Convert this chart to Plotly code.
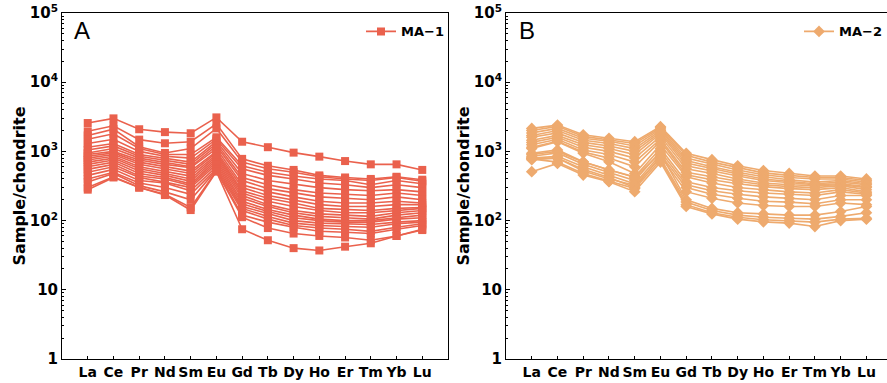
import plotly.graph_objects as go

elements = ["La", "Ce", "Pr", "Nd", "Sm", "Eu", "Gd", "Tb", "Dy", "Ho", "Er", "Tm", "Yb", "Lu"]

# Panel A: MA-1 chondrite-normalised REE patterns
ma1_samples = [
    [2570, 3000, 2090, 1900, 1830, 3100, 1380, 1150, 960, 840, 725, 650, 650, 540],
    [1950, 2350, 1480, 1310, 1380, 2500, 780, 620, 540, 450, 420, 400, 430, 390],
    [1700, 2100, 1170, 950, 1100, 2150, 700, 560, 500, 430, 400, 380, 420, 370],
    [1500, 1800, 1100, 900, 900, 1600, 620, 500, 440, 400, 380, 330, 380, 340],
    [1300, 1500, 1000, 850, 800, 1500, 560, 450, 400, 350, 330, 300, 330, 300],
    [1150, 1300, 900, 800, 700, 1400, 480, 380, 340, 300, 280, 270, 280, 260],
    [1050, 1200, 850, 750, 650, 1300, 420, 330, 280, 250, 240, 230, 250, 230],
    [950, 1100, 800, 700, 600, 1200, 380, 290, 250, 220, 210, 200, 220, 200],
    [900, 1000, 750, 650, 580, 1100, 330, 260, 220, 190, 180, 180, 190, 180],
    [850, 950, 700, 600, 520, 1000, 300, 230, 200, 170, 160, 160, 170, 170],
    [800, 900, 650, 560, 480, 950, 270, 210, 180, 150, 145, 140, 150, 155],
    [750, 850, 600, 520, 440, 900, 250, 190, 160, 140, 130, 130, 140, 150],
    [700, 800, 560, 480, 400, 850, 230, 170, 140, 125, 120, 115, 130, 140],
    [650, 750, 520, 450, 370, 800, 210, 160, 130, 115, 110, 105, 120, 130],
    [600, 700, 480, 420, 340, 750, 190, 145, 120, 105, 100, 100, 110, 120],
    [550, 650, 440, 400, 320, 700, 175, 135, 110, 100, 95, 95, 105, 110],
    [500, 600, 420, 360, 300, 650, 160, 125, 100, 92, 90, 88, 95, 100],
    [450, 550, 380, 350, 270, 600, 150, 115, 92, 85, 82, 80, 90, 95],
    [400, 500, 350, 300, 240, 560, 140, 105, 85, 78, 75, 70, 80, 90],
    [360, 480, 320, 260, 200, 540, 120, 95, 80, 70, 68, 65, 75, 85],
    [300, 430, 300, 240, 155, 520, 112, 78, 65, 60, 57, 52, 60, 75],
    [280, 420, 300, 234, 142, 510, 75, 52, 40, 37, 42, 47, 60, 73],
]

# Panel B: MA-2 chondrite-normalised REE patterns
ma2_samples = [
    [2150, 2400, 1740, 1550, 1380, 2280, 940, 760, 620, 530, 480, 440, 440, 400],
    [2000, 2300, 1650, 1450, 1300, 2200, 880, 700, 580, 490, 450, 420, 420, 380],
    [1850, 2150, 1550, 1400, 1200, 2100, 800, 650, 540, 460, 420, 400, 400, 360],
    [1700, 2000, 1450, 1300, 1100, 2000, 740, 600, 500, 430, 390, 360, 380, 340],
    [1600, 1850, 1350, 1200, 1000, 1900, 680, 560, 470, 400, 370, 340, 360, 330],
    [1450, 1700, 1250, 1100, 900, 1800, 620, 520, 440, 380, 350, 330, 340, 310],
    [1350, 1600, 1150, 1000, 800, 1650, 560, 480, 400, 350, 330, 320, 330, 300],
    [1250, 1500, 1050, 900, 700, 1500, 500, 430, 370, 330, 310, 300, 320, 280],
    [1150, 1400, 980, 800, 600, 1400, 460, 390, 340, 310, 290, 280, 300, 260],
    [1100, 1380, 940, 710, 480, 1250, 430, 350, 300, 280, 260, 250, 280, 250],
    [940, 1050, 710, 540, 430, 1100, 365, 300, 270, 250, 240, 230, 260, 240],
    [850, 950, 650, 500, 380, 1000, 330, 270, 240, 220, 210, 200, 230, 230],
    [800, 850, 600, 450, 340, 900, 300, 240, 210, 190, 185, 175, 200, 200],
    [760, 800, 550, 420, 300, 850, 262, 210, 180, 165, 160, 160, 180, 170],
    [900, 1000, 700, 540, 420, 950, 200, 150, 130, 125, 120, 120, 135, 160],
    [800, 800, 520, 400, 325, 800, 185, 140, 120, 112, 108, 105, 115, 130],
    [780, 700, 480, 370, 290, 750, 170, 130, 112, 103, 100, 95, 105, 108],
    [510, 670, 455, 365, 262, 700, 160, 125, 105, 96, 92, 82, 100, 105],
]

y_tickvals = [1, 10, 100, 1000, 10000, 100000]
y_ticktext = ["<b>1</b>", "<b>10</b>", "<b>10<sup>2</sup></b>", "<b>10<sup>3</sup></b>",
              "<b>10<sup>4</sup></b>", "<b>10<sup>5</sup></b>"]

COLOR_A = "rgb(234,97,77)"
COLOR_B = "rgb(238,170,110)"
FONT = "DejaVu Sans"

xpos = list(range(1, len(elements) + 1))

fig = go.Figure()
for i, s in enumerate(ma1_samples):
    fig.add_trace(go.Scatter(
        x=xpos, y=s, mode="lines+markers", name="MA\u22121",
        line=dict(color=COLOR_A, width=1.6),
        marker=dict(symbol="square", size=8, color=COLOR_A),
        showlegend=(i == 0), legend="legend", xaxis="x", yaxis="y"))
for i, s in enumerate(ma2_samples):
    fig.add_trace(go.Scatter(
        x=xpos, y=s, mode="lines+markers", name="MA\u22122",
        line=dict(color=COLOR_B, width=1.6),
        marker=dict(symbol="diamond", size=9, color=COLOR_B),
        showlegend=(i == 0), legend="legend2", xaxis="x2", yaxis="y2"))

W, H = 887, 383
axis_common = dict(showline=True, linecolor="black", linewidth=1, showgrid=False,
                   zeroline=False, ticks="inside", ticklen=4, tickcolor="black",
                   tickfont=dict(family=FONT, size=14, color="black"))

xa = dict(axis_common, tickmode="array", tickvals=xpos,
          ticktext=["<b>%s</b>" % e for e in elements], ticklen=3)
minor_vals = [m * 10 ** k for k in range(0, 5) for m in range(2, 10)]
ya = dict(axis_common, type="log", range=[0, 5], tickmode="array",
          tickvals=y_tickvals, ticktext=y_ticktext,
          tickfont=dict(family=FONT, size=15, color="black"),
          minor=dict(ticks="inside", ticklen=2, tickcolor="black",
                     tickmode="array", tickvals=minor_vals, showgrid=False),
          title=dict(text="<b>Sample/chondrite</b>",
                     font=dict(family=FONT, size=16, color="black"), standoff=0))

legend_font = dict(family=FONT, size=13, color="black", weight="bold")

fig.update_layout(
    width=W, height=H,
    margin=dict(l=0, r=0, t=13, b=24),
    paper_bgcolor="white", plot_bgcolor="white",
    xaxis=dict(xa, domain=[62 / W, 448 / W], range=[0, 15], mirror=True, anchor="y"),
    yaxis=dict(ya, domain=[0, 1], mirror=True, anchor="x"),
    xaxis2=dict(xa, domain=[506 / W, 1.0], range=[0, 14.8], mirror=True, anchor="y2"),
    yaxis2=dict(ya, domain=[0, 1], mirror=False, anchor="x2"),
    legend=dict(x=449 / W, xanchor="right", y=0.99, yanchor="top",
                bgcolor="rgba(0,0,0,0)", font=legend_font, itemwidth=30),
    legend2=dict(x=1.0, xanchor="right", y=0.99, yanchor="top",
                 bgcolor="rgba(0,0,0,0)", font=legend_font, itemwidth=30),
    annotations=[
        dict(text="A", x=72 / W, y=1 - 2 / 346, xref="paper", yref="paper",
             xanchor="left", yanchor="top", showarrow=False,
             font=dict(family="Liberation Sans", size=24, color="black")),
        dict(text="B", x=517 / W, y=1 - 2 / 346, xref="paper", yref="paper",
             xanchor="left", yanchor="top", showarrow=False,
             font=dict(family="Liberation Sans", size=24, color="black")),
    ],
)
fig.write_html("out.html")
